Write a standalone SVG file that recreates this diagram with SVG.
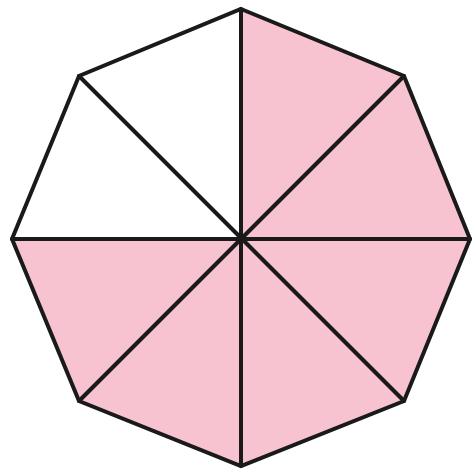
<svg xmlns="http://www.w3.org/2000/svg" width="475" height="471" viewBox="0 0 475 471">
<style>
.pink{fill:#F8C3D1;stroke:none}
.edge{fill:none;stroke:#1a1a1a;stroke-width:4;stroke-linejoin:miter;stroke-linecap:round}
</style>
<rect width="475" height="471" fill="#ffffff"/>
<g id="sectors">
<polygon id="s1" class="pink" points="241,239 241,9 404,76"/>
<polygon id="s2" class="pink" points="241,239 404,76 470,239"/>
<polygon id="s3" class="pink" points="241,239 470,239 404,401"/>
<polygon id="s4" class="pink" points="241,239 404,401 241,466"/>
<polygon id="s5" class="pink" points="241,239 241,466 79,401"/>
<polygon id="s6" class="pink" points="241,239 79,401 12,239"/>
</g>
<g id="connectors">
<polygon class="edge" points="241,9 404,76 470,239 404,401 241,466 79,401 12,239 79,76"/>
<line class="edge" x1="241" y1="9" x2="241" y2="466"/>
<line class="edge" x1="12" y1="239" x2="470" y2="239"/>
<line class="edge" x1="79" y1="76" x2="404" y2="401"/>
<line class="edge" x1="404" y1="76" x2="79" y2="401"/>
</g>
</svg>
